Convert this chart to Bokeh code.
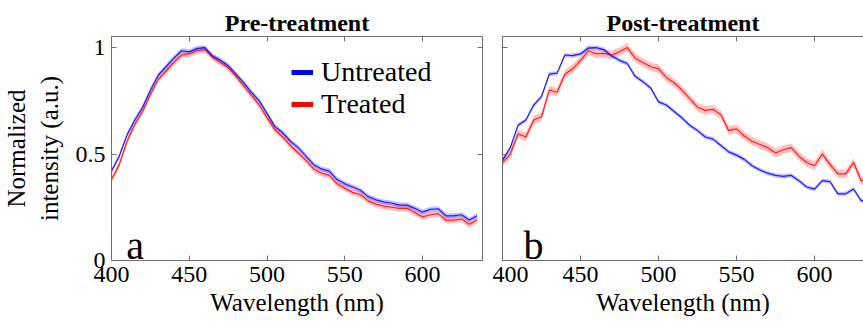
from bokeh.plotting import figure
from bokeh.models import Range1d, LinearAxis, FixedTicker, Legend, LegendItem, Label, ColumnDataSource
from bokeh.layouts import row
from bokeh.embed import file_html
from bokeh.resources import INLINE

# ---------------- data ----------------
wavelength = [400, 405, 410, 415, 420, 425, 430, 435, 440, 445, 450, 455, 460, 465, 470, 475,
              480, 485, 490, 495, 500, 505, 510, 515, 520, 525, 530, 535, 540, 545, 550, 555,
              560, 565, 570, 575, 580, 585, 590, 595, 600, 605, 610, 615, 620, 625, 630, 635]

pre_untreated = [0.42, 0.49, 0.59, 0.66, 0.72, 0.80, 0.87, 0.91, 0.95, 0.985, 0.98, 0.995,
                 1.00, 0.96, 0.94, 0.915, 0.875, 0.835, 0.79, 0.75, 0.69, 0.63, 0.60, 0.56,
                 0.53, 0.49, 0.45, 0.43, 0.42, 0.38, 0.36, 0.345, 0.33, 0.30, 0.285, 0.275,
                 0.27, 0.26, 0.26, 0.245, 0.227, 0.24, 0.243, 0.21, 0.21, 0.215, 0.19, 0.21]
pre_treated = [0.38, 0.45, 0.56, 0.64, 0.70, 0.78, 0.85, 0.89, 0.93, 0.965, 0.97, 0.985,
               0.99, 0.955, 0.93, 0.905, 0.865, 0.82, 0.775, 0.73, 0.67, 0.615, 0.58, 0.54,
               0.505, 0.47, 0.43, 0.41, 0.40, 0.36, 0.34, 0.32, 0.31, 0.28, 0.265, 0.255,
               0.25, 0.245, 0.245, 0.225, 0.205, 0.215, 0.22, 0.19, 0.19, 0.195, 0.17, 0.19]

post_untreated = [0.47, 0.53, 0.635, 0.66, 0.73, 0.77, 0.875, 0.88, 0.965, 0.962, 0.97, 0.998,
                  1.00, 0.99, 0.96, 0.94, 0.925, 0.865, 0.84, 0.81, 0.745, 0.73, 0.70, 0.67,
                  0.635, 0.61, 0.58, 0.57, 0.54, 0.51, 0.495, 0.475, 0.445, 0.425, 0.41, 0.40,
                  0.395, 0.40, 0.375, 0.345, 0.335, 0.375, 0.37, 0.313, 0.313, 0.336, 0.28, 0.29]
post_treated = [0.46, 0.50, 0.595, 0.58, 0.66, 0.675, 0.80, 0.79, 0.875, 0.90, 0.94, 0.985,
                0.97, 0.973, 0.965, 0.98, 1.00, 0.95, 0.93, 0.91, 0.90, 0.86, 0.835, 0.80,
                0.76, 0.72, 0.705, 0.71, 0.685, 0.61, 0.618, 0.585, 0.56, 0.545, 0.53, 0.505,
                0.52, 0.53, 0.49, 0.46, 0.445, 0.50, 0.45, 0.407, 0.407, 0.46, 0.375, 0.38]

# half-width of the shaded error band for each series
band_pre_untreated = 0.012
band_pre_treated = 0.015
band_post_untreated = 0.010
band_post_treated = 0.020

x_ticks = [400, 450, 500, 550, 600]
y_ticks = [0, 0.5, 1]
y_tick_labels = ["0", "0.5", "1"]
series_names = ["Untreated", "Treated"]
panel_titles = ["Pre-treatment", "Post-treatment"]
panel_letters = ["a", "b"]

BLUE = "#0000ff"
RED = "#ff0000"
AXIS_COLOR = "#6e6e6e"
FONT = "Liberation Serif"


def style_axis(ax, labels=True, ticks=None):
    ax.ticker = FixedTicker(ticks=ticks)
    ax.major_tick_in = 5
    ax.major_tick_out = 0
    ax.minor_tick_line_color = None
    ax.axis_line_color = AXIS_COLOR
    ax.major_tick_line_color = AXIS_COLOR
    ax.major_label_text_font = FONT
    ax.major_label_text_color = "black"
    ax.axis_label_text_font = FONT
    ax.axis_label_text_font_style = "normal"
    ax.axis_label_text_color = "black"
    if not labels:
        ax.major_label_overrides = {t: "" for t in ticks}
        ax.major_label_text_font_size = "1px"
        ax.major_label_standoff = 0
    else:
        ax.major_label_text_font_size = "24px"
        ax.major_label_standoff = 6


def make_panel(title, letter, unt, trt, bu, bt, xend, width, mb_left, mb_right,
               show_ylabels, right_axis, legend):
    p = figure(width=width, height=324, output_backend="svg", toolbar_location=None,
               x_range=Range1d(400, xend), y_range=Range1d(0, 1.052),
               min_border_left=mb_left, min_border_right=mb_right,
               min_border_top=36, min_border_bottom=64)
    p.outline_line_color = None
    p.grid.visible = False
    p.background_fill_color = "white"
    p.border_fill_color = "white"

    p.title.text = title
    p.title.align = "center"
    p.title.text_font = FONT
    p.title.text_font_size = "24px"
    p.title.text_font_style = "bold"
    p.title.text_color = "black"
    p.title.standoff = 2

    src = ColumnDataSource(dict(
        x=wavelength, u=unt, t=trt,
        u_lo=[v - bu for v in unt], u_hi=[v + bu for v in unt],
        t_lo=[v - bt for v in trt], t_hi=[v + bt for v in trt]))

    p.varea(x="x", y1="t_lo", y2="t_hi", source=src, fill_color=RED, fill_alpha=0.25)
    p.varea(x="x", y1="u_lo", y2="u_hi", source=src, fill_color=BLUE, fill_alpha=0.25)
    p.line(x="x", y="t", source=src, line_color=RED, line_width=1.2, line_alpha=0.85)
    p.line(x="x", y="u", source=src, line_color=BLUE, line_width=1.2, line_alpha=0.85)

    xa = p.xaxis[0]
    style_axis(xa, True, x_ticks)
    xa.axis_label = "Wavelength (nm)"
    xa.axis_label_text_font_size = "25px"
    xa.axis_label_standoff = 4

    ya = p.yaxis[0]
    style_axis(ya, show_ylabels, y_ticks)
    if show_ylabels:
        ya.major_label_overrides = {t: l for t, l in zip(y_ticks, y_tick_labels)}
        ya.axis_label = "Normalized\nintensity (a.u.)"
        ya.axis_label_text_font_size = "25px"
        ya.axis_label_standoff = 10

    top = LinearAxis()
    style_axis(top, False, x_ticks)
    p.add_layout(top, "above")

    if right_axis:
        ra = LinearAxis()
        style_axis(ra, False, y_ticks)
        p.add_layout(ra, "right")

    if legend:
        nan = float("nan")
        gu = p.line(x=[400], y=[nan], line_color=BLUE, line_width=5)
        gt = p.line(x=[400], y=[nan], line_color=RED, line_width=5)
        leg = Legend(items=[LegendItem(label=series_names[0], renderers=[gu]),
                            LegendItem(label=series_names[1], renderers=[gt])],
                     location=(180, 140), padding=0, margin=0, spacing=0,
                     label_text_font=FONT, label_text_font_size="28px",
                     label_text_color="black",
                     label_height=30, glyph_height=30, glyph_width=22,
                     label_standoff=8, border_line_color=None,
                     background_fill_alpha=0)
        p.add_layout(leg)

    lx = 409.5 if letter == "a" else 413.5
    p.add_layout(Label(x=lx, y=0.07, text=letter, text_font=FONT,
                       text_font_size="40px", text_color="black",
                       text_baseline="alphabetic"))
    return p


p1 = make_panel(panel_titles[0], panel_letters[0], pre_untreated, pre_treated,
                band_pre_untreated, band_pre_treated, 638.5, 492, 110, 10,
                True, True, True)
p2 = make_panel(panel_titles[1], panel_letters[1], post_untreated, post_treated,
                band_post_untreated, band_post_treated, 631.4, 371, 10, 0,
                False, False, False)

layout = row(p1, p2)
open("out.html", "w").write(file_html(layout, INLINE))
